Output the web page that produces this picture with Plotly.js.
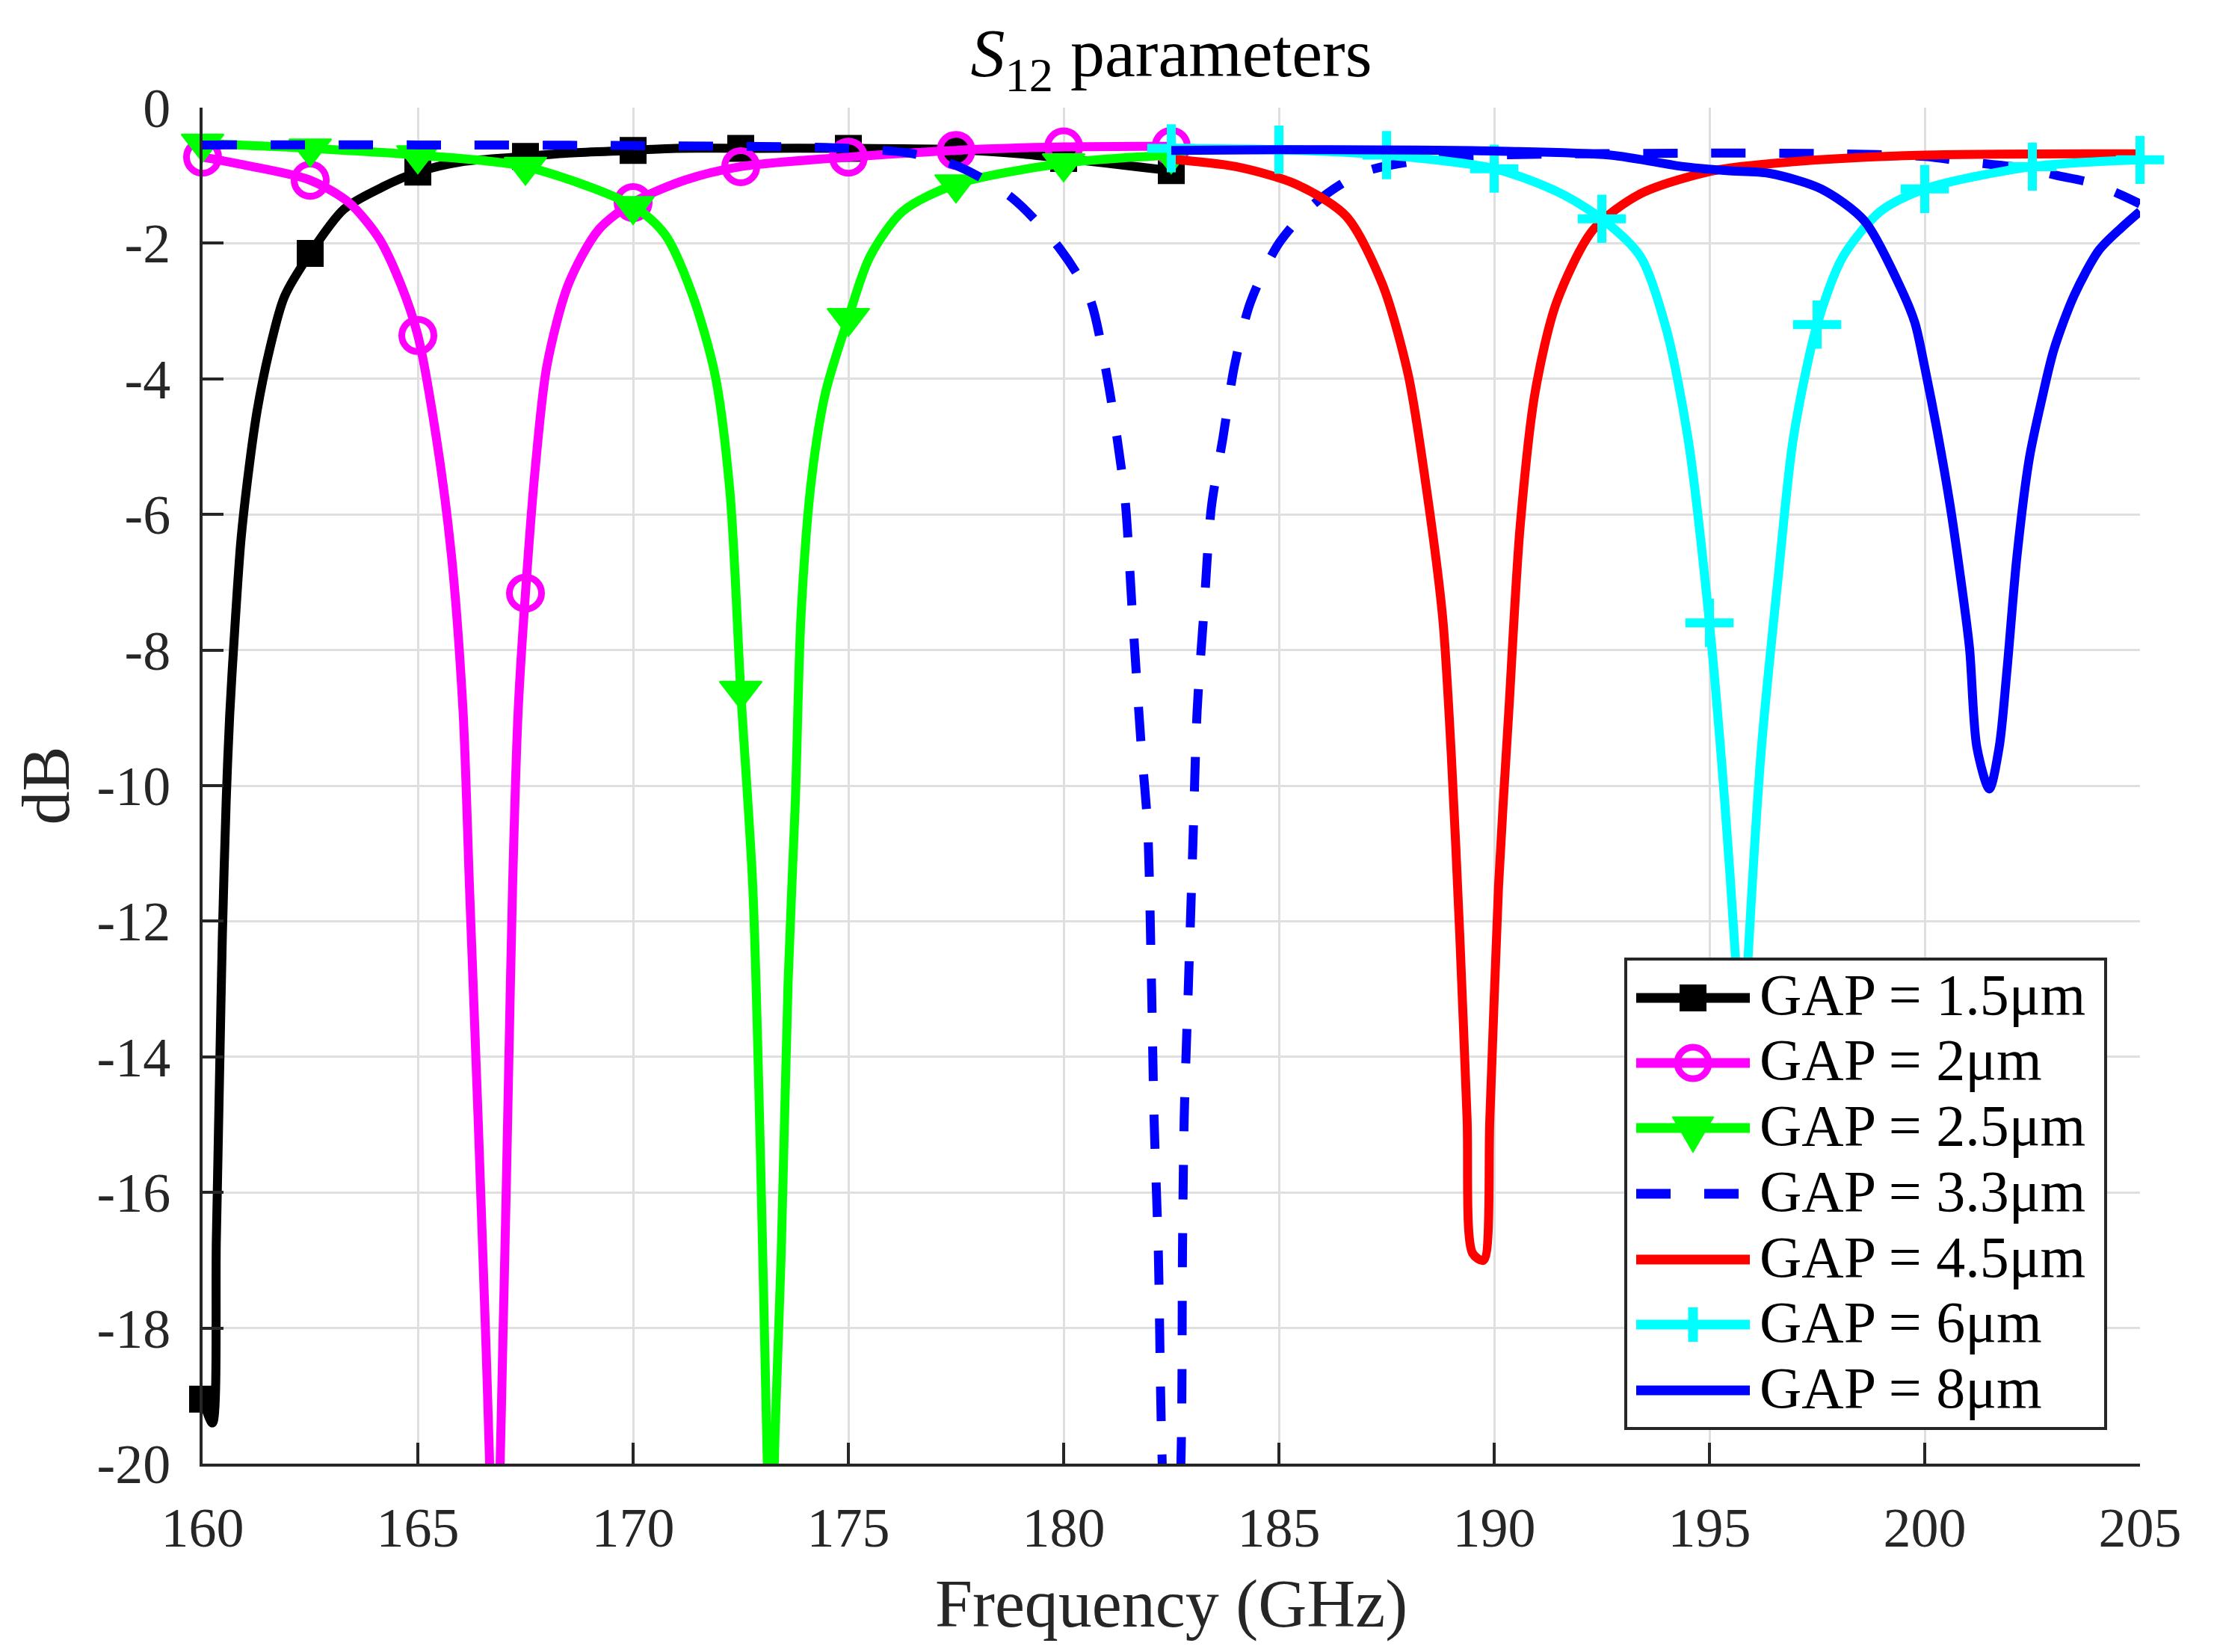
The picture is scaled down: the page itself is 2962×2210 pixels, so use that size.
<!DOCTYPE html>
<html>
<head>
<meta charset="utf-8">
<script src="https://cdn.plot.ly/plotly-3.0.1.min.js"></script>
<style>
  html, body { margin: 0; padding: 0; background: #fff; }
</style>
</head>
<body>
<div id="graphDiv"></div>
<script>
// values, frequency in GHz and S12 in dB
var fGap15 = [160, 160.23, 160.32, 160.4, 160.46, 160.55, 160.63, 160.75, 160.89, 161.07, 161.27, 161.56, 161.9, 162.5, 163.28, 164.15, 165, 166, 167.5, 168.5, 170, 171, 172.5, 175, 177.5, 179, 180, 181, 182.5];
var dbGap15 = [-19.05, -19.4, -16.7, -14.1, -12.2, -10.2, -8.96, -7.67, -6.39, -5.36, -4.46, -3.56, -2.79, -2.15, -1.5, -1.18, -0.95, -0.8, -0.72, -0.67, -0.63, -0.6, -0.6, -0.6, -0.62, -0.68, -0.75, -0.82, -0.93];

var fGap2 = [160, 161, 162.5, 163.4, 164.1, 164.6, 165, 165.43, 165.78, 166.05, 166.2, 166.4, 166.58, 166.8, 167.0, 167.1, 167.2, 167.33, 167.5, 167.73, 168, 168.5, 169.2, 170, 171.2, 172.5, 175, 177.5, 180, 182.5];
var dbGap2 = [-0.73, -0.85, -1.07, -1.4, -1.93, -2.6, -3.36, -4.87, -6.6, -8.9, -11.5, -14.9, -18.2, -22, -17.5, -14.5, -11.5, -8.9, -7.16, -5.3, -3.8, -2.6, -1.8, -1.4, -1.07, -0.87, -0.73, -0.63, -0.58, -0.57];

var fGap25 = [160, 162.5, 165, 167.5, 170, 170.74, 171.36, 171.9, 172.25, 172.5, 172.78, 172.96, 173.1, 173.2, 173.3, 173.44, 173.6, 173.77, 173.9, 174.14, 174.47, 175, 175.5, 176.26, 177.5, 180, 182.5];
var dbGap25 = [-0.53, -0.6, -0.7, -0.87, -1.45, -1.87, -2.73, -3.93, -5.67, -8.6, -11.5, -15.5, -19.5, -22, -19.5, -16.9, -12.9, -10.2, -7.5, -5.5, -4.2, -3.1, -2.2, -1.53, -1.13, -0.82, -0.7];

var fGap33 = [160, 165, 170, 175, 176.5, 177.57, 178.8, 179.9, 180.6, 180.96, 181.24, 181.43, 181.6, 181.8, 181.95, 182.04, 182.1, 182.2, 182.27, 182.5, 182.73, 182.76, 182.8, 182.9, 183, 183.1, 183.25, 183.43, 183.7, 183.97, 184.34, 185, 185.85, 186.97, 188.6, 190, 195, 198, 200, 201, 202.4, 203.06, 203.8, 204.5, 205];
var dbGap33 = [-0.55, -0.55, -0.56, -0.6, -0.68, -0.87, -1.33, -2.07, -2.8, -3.8, -4.87, -5.8, -7.5, -9.4, -10.6, -12.9, -14.9, -16.9, -19.5, -24, -19.8, -16.9, -14.9, -12.9, -10.9, -8.9, -7.5, -5.9, -4.87, -3.8, -2.87, -2.0, -1.4, -0.95, -0.75, -0.7, -0.67, -0.68, -0.72, -0.8, -0.9, -1.0, -1.1, -1.27, -1.42];

var fGap45 = [182.5, 184, 185.4, 186.56, 187.4, 188, 188.4, 188.8, 189, 189.2, 189.37, 189.5, 189.75, 189.9, 190.1, 190.34, 190.6, 190.95, 191.45, 192.3, 193.4, 195.1, 196.9, 200, 205];
var dbGap45 = [-0.76, -0.87, -1.13, -1.6, -2.6, -3.93, -5.5, -7.5, -9.5, -12.2, -14.9, -16.9, -17.0, -14.9, -11.5, -8.9, -6.2, -4.2, -2.87, -1.8, -1.27, -0.93, -0.8, -0.7, -0.68];

var fGap6 = [182.5, 185, 187.5, 190, 191.5, 192.5, 193.4, 194, 194.5, 195, 195.35, 195.6, 195.75, 195.9, 196.2, 196.6, 196.95, 197.5, 198.1, 198.97, 200, 202.5, 205];
var dbGap6 = [-0.6, -0.62, -0.7, -0.9, -1.25, -1.64, -2.2, -3.27, -4.87, -7.6, -10.2, -12.5, -14.5, -12.5, -9.5, -6.9, -4.87, -3.2, -2.2, -1.53, -1.2, -0.87, -0.77];

var fGap8 = [182.5, 185, 190, 192.7, 194.4, 195.4, 196.4, 197.6, 198.6, 199.42, 199.77, 200, 200.29, 200.58, 200.81, 201.04, 201.21, 201.5, 201.73, 201.91, 202.14, 202.43, 202.72, 203.0, 203.47, 204.05, 204.57, 205];
var dbGap8 = [-0.63, -0.62, -0.64, -0.7, -0.87, -0.93, -0.97, -1.2, -1.67, -2.63, -3.17, -3.83, -4.77, -5.83, -6.83, -7.97, -9.43, -10.05, -9.43, -8.3, -6.63, -5.17, -4.3, -3.57, -2.77, -2.1, -1.77, -1.53];

var seriesNames = ['GAP = 1.5μm', 'GAP = 2μm', 'GAP = 2.5μm', 'GAP = 3.3μm', 'GAP = 4.5μm', 'GAP = 6μm', 'GAP = 8μm'];
var xTicks = [160, 165, 170, 175, 180, 185, 190, 195, 200, 205];
var yTicks = [0, -2, -4, -6, -8, -10, -12, -14, -16, -18, -20];

var FONT = 'Liberation Serif, DejaVu Serif, serif';
var LW = 12;

// markers every 2.5 GHz like the original plot
function markerOpacity(freqs) {
    return freqs.map(function (f) { return (f % 2.5 === 0) ? 1 : 0; });
}

function makeTrace(x, y, name, color, dash, marker) {
    var t = {
        type: 'scatter',
        x: x,
        y: y,
        name: name,
        mode: marker ? 'lines+markers' : 'lines',
        line: { color: color, width: LW, dash: dash || 'solid', shape: 'spline', smoothing: 0.8 },
        cliponaxis: false,
        showlegend: false
    };
    if (marker) {
        marker.opacity = markerOpacity(x);
        marker.color = color;
        t.marker = marker;
    }
    return t;
}

var data = [
    makeTrace(fGap15, dbGap15, seriesNames[0], '#000000', null, { symbol: 'square', size: 34, line: { width: 2, color: '#000000' } }),
    makeTrace(fGap2, dbGap2, seriesNames[1], '#ff00ff', null, { symbol: 'circle-open', size: 43, line: { width: 9, color: '#ff00ff' } }),
    makeTrace(fGap25, dbGap25, seriesNames[2], '#00ff00', null, { symbol: 'triangle-down', size: 49, line: { width: 2, color: '#00ff00' } }),
    makeTrace(fGap33, dbGap33, seriesNames[3], '#0000ff', '46px,45px', null),
    makeTrace(fGap45, dbGap45, seriesNames[4], '#ff0000', null, null),
    makeTrace(fGap6, dbGap6, seriesNames[5], '#00ffff', null, { symbol: 'cross-thin', size: 46, line: { width: 12, color: '#00ffff' } }),
    makeTrace(fGap8, dbGap8, seriesNames[6], '#0000ff', null, null)
];

// plot area in pixels
var L = 271, T = 144, W = 2592, H = 1814;
function px(x) { return (x - L) / W; }
function py(y) { return (T + H - y) / H; }

// hand made legend box, so the symbols keep their real size
var shapes = [];
var annotations = [];
shapes.push({
    type: 'rect', xref: 'paper', yref: 'paper',
    x0: px(2175), x1: px(2817), y0: py(1911), y1: py(1283),
    fillcolor: '#ffffff', line: { color: '#262626', width: 4 }
});
var legendColors = ['#000000', '#ff00ff', '#00ff00', '#0000ff', '#ff0000', '#00ffff', '#0000ff'];
var rowY = [1335, 1422, 1509, 1597, 1685, 1772, 1860];
for (var i = 0; i < 7; i++) {
    var r = rowY[i];
    shapes.push({
        type: 'line', xref: 'paper', yref: 'paper',
        x0: px(2189), x1: px(2341), y0: py(r), y1: py(r),
        line: { color: legendColors[i], width: 13, dash: i == 3 ? '46px,45px' : 'solid' }
    });
    annotations.push({
        xref: 'paper', yref: 'paper', x: px(2352), y: py(r - 4),
        xanchor: 'left', yanchor: 'middle', showarrow: false,
        text: seriesNames[i],
        font: { family: FONT, size: 78, color: '#000000' }
    });
}
var cx = 2265;
shapes.push({
    type: 'rect', xref: 'paper', yref: 'paper',
    x0: px(cx - 18), x1: px(cx + 18), y0: py(rowY[0] + 18), y1: py(rowY[0] - 18),
    fillcolor: '#000000', line: { width: 0 }
});
shapes.push({
    type: 'circle', xref: 'paper', yref: 'paper',
    x0: px(cx - 21), x1: px(cx + 21), y0: py(rowY[1] + 21), y1: py(rowY[1] - 21),
    line: { color: '#ff00ff', width: 9 }
});
shapes.push({
    type: 'path', xref: 'paper', yref: 'paper',
    path: 'M' + px(cx - 28) + ',' + py(rowY[2] - 15) + ' L' + px(cx + 28) + ',' + py(rowY[2] - 15) +
        ' L' + px(cx) + ',' + py(rowY[2] + 33) + ' Z',
    fillcolor: '#00ff00', line: { color: '#00ff00', width: 1 }
});
shapes.push({
    type: 'line', xref: 'paper', yref: 'paper',
    x0: px(cx), x1: px(cx), y0: py(rowY[5] - 23), y1: py(rowY[5] + 23),
    line: { color: '#00ffff', width: 13 }
});

var layout = {
    width: 2962,
    height: 2210,
    margin: { l: L, r: 2962 - L - W, t: T, b: 2210 - T - H, pad: 0 },
    paper_bgcolor: '#ffffff',
    plot_bgcolor: '#ffffff',
    showlegend: false,
    font: { family: FONT, color: '#262626' },
    title: {
        text: '<i>S</i><sub>12</sub> parameters',
        font: { family: FONT, size: 92, color: '#000000' },
        x: 0.5, xref: 'paper', xanchor: 'center',
        y: 1 - 70 / 2210, yanchor: 'middle'
    },
    xaxis: {
        range: [160, 205],
        tickmode: 'array',
        tickvals: xTicks,
        ticktext: xTicks.map(String),
        ticks: 'inside', ticklen: 28, tickwidth: 4, tickcolor: '#262626',
        showline: true, linecolor: '#262626', linewidth: 4,
        showgrid: true, gridcolor: '#dfdfdf', gridwidth: 3,
        zeroline: false,
        ticklabelstandoff: 18,
        tickfont: { family: FONT, size: 74, color: '#262626' },
        title: { text: 'Frequency (GHz)', font: { family: FONT, size: 90, color: '#262626' }, standoff: 30 }
    },
    yaxis: {
        range: [-20, 0],
        tickmode: 'array',
        tickvals: yTicks,
        ticktext: yTicks.map(String),
        ticks: 'inside', ticklen: 28, tickwidth: 4, tickcolor: '#262626',
        showline: true, linecolor: '#262626', linewidth: 4,
        showgrid: true, gridcolor: '#dfdfdf', gridwidth: 3,
        zeroline: false,
        ticklabelstandoff: 24,
        tickfont: { family: FONT, size: 74, color: '#262626' },
        title: { text: 'dB', font: { family: FONT, size: 90, color: '#262626' }, standoff: 8 }
    },
    shapes: shapes,
    annotations: annotations
};

Plotly.newPlot('graphDiv', data, layout, { staticPlot: true });
</script>
</body>
</html>
